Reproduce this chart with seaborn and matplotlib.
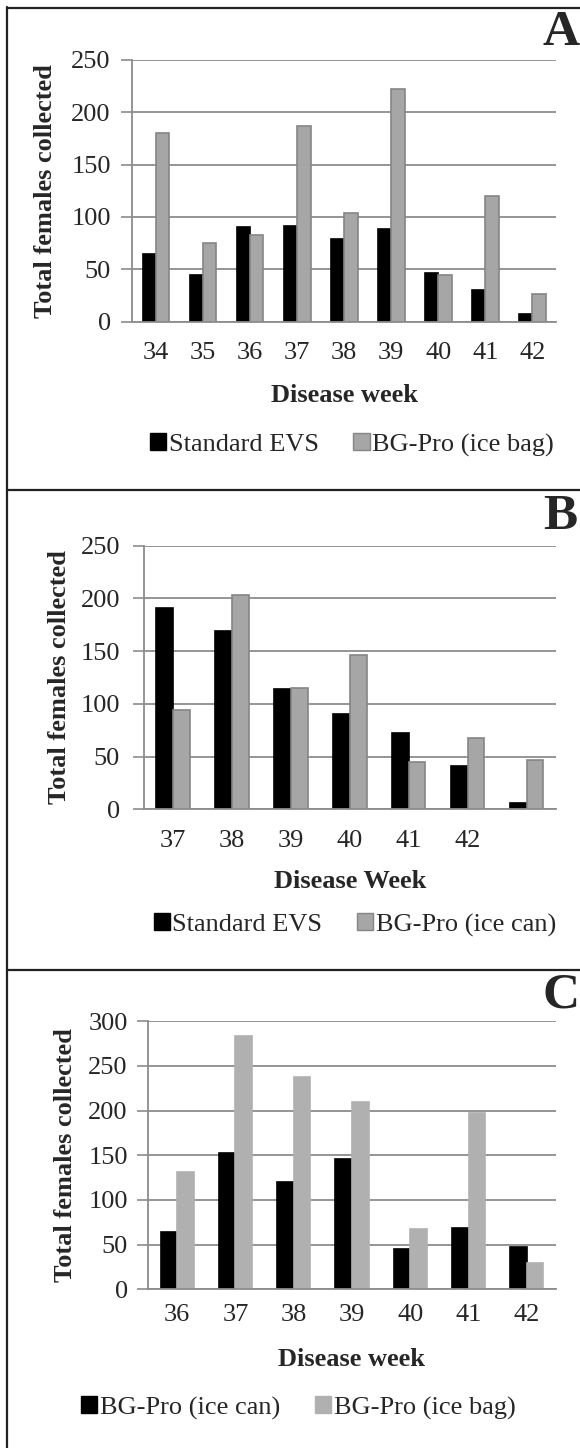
import numpy as np
import pandas as pd
import matplotlib
matplotlib.use("Agg")
import matplotlib.pyplot as plt
from matplotlib.patches import Patch
from matplotlib.lines import Line2D
import seaborn as sns

# Panel A: Standard EVS vs BG-Pro (ice bag)
weeks_a = ["34", "35", "36", "37", "38", "39", "40", "41", "42"]
evs_a = [65, 44, 90, 91, 79, 88, 46, 30, 7]
icebag_a = [180, 75, 83, 187, 104, 222, 44, 120, 26]
names_a = ["Standard EVS", "BG-Pro (ice bag)"]

# Panel B: Standard EVS vs BG-Pro (ice can)
weeks_b = ["37", "38", "39", "40", "41", "42", ""]
evs_b = [191, 169, 114, 90, 72, 41, 6]
icecan_b = [94, 203, 115, 146, 45, 68, 47]
names_b = ["Standard EVS", "BG-Pro (ice can)"]

# Panel C: BG-Pro (ice can) vs BG-Pro (ice bag)
weeks_c = ["36", "37", "38", "39", "40", "41", "42"]
icecan_c = [64, 153, 120, 146, 45, 69, 47]
icebag_c = [131, 284, 238, 210, 68, 197, 29]
names_c = ["BG-Pro (ice can)", "BG-Pro (ice bag)"]

sns.set_style("white")
plt.rcParams["font.family"] = ["Liberation Serif", "DejaVu Serif"]

W, H = 580, 1448
fig = plt.figure(figsize=(W / 100, H / 100), dpi=100)

BLACK = "#000000"
GRAY = "#a6a6a6"
GRAY_EDGE = "#858585"
GRAY_C = "#b0b0b0"
GRID = "#8c8c8c"
FRAME = "#222222"
TICK_SIZE = 19


def fx(px):
    return px / W


def fy(py):
    return 1 - py / H


def panel(letter, weeks, s1, s2, names, colors, edges, box, ymax,
          xlabel, ytick_pad, xtick_pad, ylabel_x, xlabel_y,
          legend_left, legend_y, letter_xy):
    left, top, right, bottom = box
    ax = fig.add_axes([fx(left), fy(bottom), (right - left) / W, (bottom - top) / H])
    n = len(weeks)
    df = pd.DataFrame({
        "week": weeks + weeks,
        "count": s1 + s2,
        "trap": [names[0]] * n + [names[1]] * n,
    })
    sns.barplot(data=df, x="week", y="count", hue="trap", order=weeks,
                hue_order=names, palette=colors, width=0.57, gap=0,
                saturation=1, legend=False, linewidth=1.2, ax=ax)
    for cont, ec in zip(ax.containers, edges):
        for bar in cont:
            bar.set_edgecolor(ec)

    ax.set_ylim(0, ymax)
    ax.set_yticks(np.arange(0, ymax + 1, 50))
    ax.set_xlim(-0.5, n - 0.5)
    ax.set_xticks(range(n))
    ax.set_xticklabels(weeks)
    ax.set_xticks(np.arange(-0.5, n), minor=True)
    ax.tick_params(axis="x", which="major", length=0, pad=xtick_pad, labelsize=TICK_SIZE)
    ax.tick_params(axis="x", which="minor", length=7, width=1.2, color=GRID, direction="out")
    ax.tick_params(axis="y", length=8, width=1.2, color=GRID, pad=ytick_pad,
                   labelsize=TICK_SIZE, direction="out", left=True)
    ax.grid(axis="y", color=GRID, lw=1.3)
    ax.set_axisbelow(True)
    sns.despine(ax=ax)
    for side in ("left", "bottom"):
        ax.spines[side].set_color(GRID)
        ax.spines[side].set_linewidth(1.3)

    ax.set_ylabel("Total females collected", fontsize=19, fontweight="bold",
                  va="center", ha="center")
    ax.yaxis.set_label_coords((ylabel_x - left) / (right - left), 0.5)
    ax.set_xlabel(xlabel, fontsize=19, fontweight="bold", va="center")
    ax.xaxis.set_label_coords(0.5, (bottom - xlabel_y) / (bottom - top))

    handles = [Patch(facecolor=colors[0], edgecolor=edges[0], lw=1.0),
               Patch(facecolor=colors[1], edgecolor=edges[1], lw=1.0)]
    fig.legend(handles, names, loc="center left",
               bbox_to_anchor=(fx(legend_left), fy(legend_y)),
               bbox_transform=fig.transFigure, ncol=2, frameon=False,
               fontsize=19, handlelength=0.62, handleheight=0.62,
               handletextpad=0.1, columnspacing=1.3, borderpad=0,
               borderaxespad=0)
    fig.text(fx(letter_xy[0]), fy(letter_xy[1]), letter, fontsize=37,
             fontweight="bold", ha="center", va="center")
    return ax


panel("A", weeks_a, evs_a, icebag_a, names_a, [BLACK, GRAY], [BLACK, GRAY_EDGE],
      (132.4, 60, 556, 321.5), 250, "Disease week",
      ytick_pad=7.5, xtick_pad=14.5, ylabel_x=46, xlabel_y=395,
      legend_left=150, legend_y=445, letter_xy=(561, 33))

panel("B", weeks_b, evs_b, icecan_b, names_b, [BLACK, GRAY], [BLACK, GRAY_EDGE],
      (143.5, 545.7, 556, 809.3), 250, "Disease Week",
      ytick_pad=9, xtick_pad=15, ylabel_x=59, xlabel_y=882,
      legend_left=153.5, legend_y=925, letter_xy=(560, 517))

panel("C", weeks_c, icecan_c, icebag_c, names_c, [BLACK, GRAY_C], [BLACK, GRAY_C],
      (148, 1021.3, 556, 1289.3), 300, "Disease week",
      ytick_pad=6.5, xtick_pad=10.5, ylabel_x=65, xlabel_y=1360,
      legend_left=81, legend_y=1408, letter_xy=(561, 995))

# Panel frames
fig.add_artist(Line2D([fx(7), fx(7)], [fy(7), 0], color=FRAME, lw=1.6))
for yline in (7.5, 490, 970):
    fig.add_artist(Line2D([fx(7), 1], [fy(yline), fy(yline)], color=FRAME, lw=1.6))

fig.savefig("out.png", dpi=100)
